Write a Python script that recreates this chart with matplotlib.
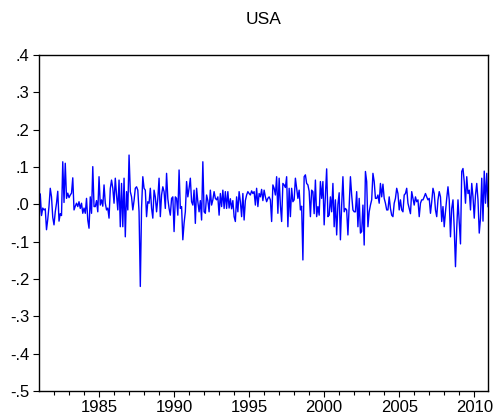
import numpy as np
import matplotlib
matplotlib.use("Agg")
import matplotlib.pyplot as plt
from matplotlib.ticker import FixedLocator, FuncFormatter

# monthly returns, USA, Jan 1981 - Dec 2010
r_1981_1985 = [
    -0.05, 0.028, -0.03, -0.01, -0.015, -0.012, -0.068, -0.04, -0.005, 0.043, 0.02, -0.035,
    -0.055, -0.02, 0.003, 0.035, -0.045, -0.025, -0.03, 0.114, 0.005, 0.11, 0.016, 0.03,
    0.018, 0.025, 0.03, 0.071, -0.015, -0.005, 0.003, -0.006, 0.007, -0.011, 0.003, -0.024,
    -0.01, -0.024, 0.016, -0.042, -0.064, 0.02, -0.024, 0.101, -0.006, -0.006, 0.01, -0.02,
    0.074, -0.002, 0.012, -0.005, 0.052, 0.003, -0.015, -0.01, -0.037, 0.042, 0.065, 0.043,
]
r_1986_1990 = [
    0.003, 0.07, 0.025, -0.015, 0.065, -0.06, 0.056, -0.06, 0.07, -0.087, 0.034, -0.015,
    0.132, 0.034, 0.02, -0.015, 0.01, 0.043, 0.047, 0.038, -0.02, -0.22, -0.01, 0.074,
    0.043, 0.038, -0.033, 0.007, 0.003, 0.043, -0.01, -0.037, 0.038, 0.02, -0.02, 0.015,
    0.07, -0.033, 0.025, 0.047, 0.034, -0.011, 0.083, 0.015, -0.011, -0.029, 0.016, 0.02,
    -0.073, 0.02, 0.016, -0.029, 0.092, -0.011, -0.006, -0.095, -0.05, -0.02, 0.061, 0.02,
]
r_1991_1995 = [
    0.043, 0.07, 0.007, -0.002, 0.038, -0.051, 0.043, 0.007, -0.02, 0.01, -0.042, 0.114,
    -0.02, -0.024, 0.025, 0.01, -0.02, 0.038, -0.002, 0.012, 0.034, 0.016, 0.012, 0.02,
    -0.029, 0.029, -0.006, 0.038, -0.011, 0.034, -0.011, 0.034, -0.01, 0.015, -0.012, 0.01,
    -0.033, -0.046, 0.02, -0.02, 0.034, 0.007, -0.033, 0.029, -0.042, 0.01, 0.025, 0.034,
    0.029, 0.025, 0.036, 0.029, 0.034, -0.002, 0.043, -0.006, 0.029, 0.02, 0.04, 0.01,
]
r_1996_2000 = [
    0.038, 0.02, 0.007, 0.016, 0.02, 0.012, -0.046, 0.052, 0.043, 0.025, 0.074, -0.024,
    0.07, -0.002, -0.046, 0.056, 0.052, 0.045, 0.074, -0.06, 0.043, -0.033, 0.043, 0.007,
    0.012, 0.07, 0.043, 0.016, 0.038, -0.015, -0.005, -0.149, 0.074, 0.079, 0.056, 0.052,
    0.035, -0.033, 0.038, 0.034, -0.025, 0.065, -0.033, -0.006, -0.029, 0.061, 0.016, 0.061,
    -0.055, 0.025, 0.095, -0.033, -0.029, 0.02, -0.02, 0.056, -0.06, 0.012, -0.082, 0.0,
]
r_2001_2005 = [
    0.031, -0.095, -0.002, 0.074, -0.02, -0.011, -0.015, -0.082, -0.006, 0.074, 0.025, -0.015,
    -0.02, -0.02, 0.034, -0.06, 0.016, -0.077, -0.073, -0.002, -0.109, 0.088, 0.061, -0.06,
    -0.02, -0.002, 0.012, 0.083, 0.061, 0.016, 0.016, 0.025, 0.003, 0.056, 0.02, 0.054,
    0.016, 0.003, -0.015, -0.015, 0.02, -0.011, -0.029, -0.033, 0.003, 0.016, 0.043, 0.029,
    -0.015, 0.012, -0.015, -0.02, 0.025, 0.029, 0.043, 0.003, -0.011, -0.025, 0.034, 0.016,
]
r_2006_2010 = [
    -0.002, 0.02, 0.007, 0.012, -0.033, 0.003, 0.012, 0.012, 0.02, 0.029, 0.02, 0.012,
    0.016, -0.024, 0.007, 0.043, 0.029, -0.015, -0.033, 0.012, 0.034, 0.02, -0.046, -0.006,
    -0.06, -0.02, 0.016, 0.047, 0.012, -0.087, -0.011, 0.012, -0.064, -0.167, -0.064, 0.012,
    -0.046, -0.106, 0.088, 0.096, 0.061, 0.003, 0.074, 0.029, 0.038, -0.015, 0.056, 0.02,
    -0.037, 0.025, 0.056, 0.012, -0.077, -0.037, 0.07, -0.045, 0.089, 0.003, 0.083, -0.006,
]

start_year = 1981
year_ticks = [1985, 1990, 1995, 2000, 2005, 2010]
y_ticks = [0.4, 0.3, 0.2, 0.1, 0.0, -0.1, -0.2, -0.3, -0.4, -0.5]

returns = np.array(r_1981_1985 + r_1986_1990 + r_1991_1995 +
                   r_1996_2000 + r_2001_2005 + r_2006_2010)
t = start_year + np.arange(len(returns)) / 12.0

plt.rcParams['font.family'] = ['Liberation Sans', 'DejaVu Sans']

fig = plt.figure(figsize=(4.93, 4.17), dpi=100)
ax = fig.add_axes([39 / 493, 1 - 391 / 417, 449 / 493, 336 / 417])

ax.plot(t, returns, color=(0, 0, 1), lw=1.0)

ax.set_xlim(t[0], t[-1])
ax.set_ylim(-0.5, 0.4)

ax.xaxis.set_major_locator(FixedLocator(year_ticks))
ax.xaxis.set_minor_locator(FixedLocator(list(range(1982, 2011))))
ax.yaxis.set_major_locator(FixedLocator(y_ticks))


def short_fmt(v, pos):
    s = "%.1f" % v
    if s.startswith("-0"):
        s = "-" + s[2:]
    elif s.startswith("0"):
        s = s[1:]
    return s


ax.yaxis.set_major_formatter(FuncFormatter(short_fmt))

ax.tick_params(axis='both', which='major', direction='out', length=4, width=0.8,
               labelsize=12, color='black')
ax.tick_params(axis='x', which='minor', direction='out', length=3, width=0.8)
ax.tick_params(axis='y', pad=3)
ax.tick_params(axis='x', pad=2.5)

for s in ax.spines.values():
    s.set_linewidth(1.0)
    s.set_color('black')

fig.text((39 + 488) / 2 / 493, 1 - 19 / 417, "USA", ha='center', va='center',
         fontsize=12.5)

fig.savefig("out.png", dpi=100)
